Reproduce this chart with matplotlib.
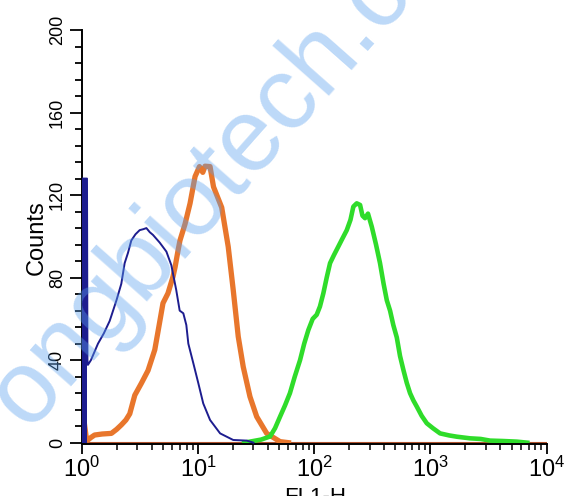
import matplotlib
matplotlib.use("Agg")
import matplotlib.pyplot as plt
from matplotlib.ticker import MultipleLocator, LogLocator, NullFormatter

# channel values (FL1-H) and counts
blue_x = [1.0, 1.11, 1.12, 1.13, 1.2, 1.38, 1.55, 1.74, 1.99, 2.19, 2.34, 2.5,
          2.67, 2.9, 3.15, 3.4, 3.6, 3.85, 4.1, 4.68, 5.35, 5.9, 6.5, 6.96,
          7.48, 7.94, 8.26, 9.12, 10.07, 11.1, 12.7, 15.5, 20.1, 26.3, 30]
blue_y = [128, 128, 40, 37.7, 40, 48, 53, 59, 69, 77, 87, 92,
          98, 101, 103, 103.5, 104, 102, 100.7, 97, 92.6, 86, 74, 64,
          62.7, 57, 48, 38.5, 28.8, 19, 11, 4.5, 1.3, 1.0, 0]

orange_x = [1.0, 1.05, 1.1, 1.13, 1.2, 1.29, 1.5, 1.8, 2.0, 2.19, 2.4, 2.59,
            2.86, 3.26, 3.72, 4.25, 4.53, 5.0, 5.52, 6.1, 6.35, 6.73, 7.0,
            7.74, 8.55, 9.44, 10.3, 11.0, 11.5, 12.7, 13.6, 16.0, 18.2, 20.1,
            22.2, 24.5, 28, 32, 39, 50.8, 60]
orange_y = [46.5, 10, 1.5, 1.3, 2.5, 3.7, 4.2, 4.5, 6.5, 8.6, 11, 14,
            23, 28.8, 35, 45, 53.8, 67.6, 72.4, 80.5, 85, 93, 98,
            106, 116, 129, 133.8, 131, 134, 133.8, 124, 114, 95, 74,
            51.4, 36.8, 22.3, 12.6, 4.5, 0.5, 0]

green_x = [25, 28, 35, 41.7, 46, 50.8, 56, 61.8, 68, 75.5, 82, 89, 97, 105,
           112, 119.8, 128, 136.8, 148, 161, 175, 190.5, 205, 217, 232, 248,
           260, 273.5, 290, 312.5, 340, 368, 395, 421, 449, 479, 513, 547,
           585, 625, 667, 712, 762, 840, 929, 1050, 1209, 1450, 1682, 2190,
           2700, 3250, 4200, 5520, 6800]
green_y = [0, 0.5, 1.5, 3, 7, 12.6, 18, 24, 32, 40, 48, 54.6, 60, 62,
           66, 72.4, 80, 87, 91, 95, 99, 103, 108, 114.4, 116, 115.2,
           110, 108.8, 111, 104.7, 96, 87, 77, 69, 64, 57, 51, 42,
           35.2, 29, 24, 20.5, 17.5, 13, 9.4, 7, 4.5, 3.5, 2.9, 2.1,
           1.8, 1.0, 0.8, 0.5, 0]

plt.rcParams['font.family'] = ['Liberation Sans', 'DejaVu Sans']
plt.rcParams['mathtext.default'] = 'regular'

fig = plt.figure(figsize=(5.64, 4.96), dpi=100)
ax = fig.add_axes([0.1449, 0.1042, 0.8245, 0.8353])

ax.axhline(0, color='#b0522d', linewidth=1.5, zorder=1)

# off-scale first channel of the blue histogram
ax.fill_between(blue_x[:2], 0, blue_y[:2], color='#1d1d8f', linewidth=0, zorder=3)
ax.plot(blue_x, blue_y, color='#1d1d8f', linewidth=1.4, zorder=3)
ax.plot(orange_x, orange_y, color='#e8762c', linewidth=3.8, zorder=2)
ax.plot(green_x, green_y, color='#2fdc2a', linewidth=3.3, zorder=2)

ax.set_xscale('log')
ax.set_xlim(1, 1e4)
ax.set_ylim(-0.8, 200)

ax.yaxis.set_major_locator(MultipleLocator(40))
ax.yaxis.set_minor_locator(MultipleLocator(8))
ax.xaxis.set_major_locator(LogLocator(base=10))
ax.xaxis.set_minor_locator(LogLocator(base=10, subs=range(2, 10)))
ax.xaxis.set_minor_formatter(NullFormatter())

for side in ['top', 'right']:
    ax.spines[side].set_visible(False)
for side in ['left', 'bottom']:
    ax.spines[side].set_linewidth(1.4)

ax.tick_params(axis='y', which='major', length=8.5, width=1.3, pad=3, labelsize=13)
ax.tick_params(axis='y', which='minor', length=5, width=1.3)
ax.tick_params(axis='x', which='major', length=7, width=1.3, pad=2, labelsize=17)
ax.tick_params(axis='x', which='minor', length=4, width=1.1)
for lab in ax.get_yticklabels():
    lab.set_rotation(90)
    lab.set_va('center')

ax.set_ylabel('Counts', fontsize=17, labelpad=1)
fig.text(0.558, 1 - 487 / 496, 'FL1-H', ha='center', va='top', fontsize=16)

# faint diagonal watermark
fig.text(0.357, 0.607, 'ongbiotech.c', rotation=48.5, rotation_mode='anchor',
         ha='center', va='center', fontsize=74, color='#5aa0ee', alpha=0.4,
         zorder=10)

fig.savefig('out.png', dpi=100)
